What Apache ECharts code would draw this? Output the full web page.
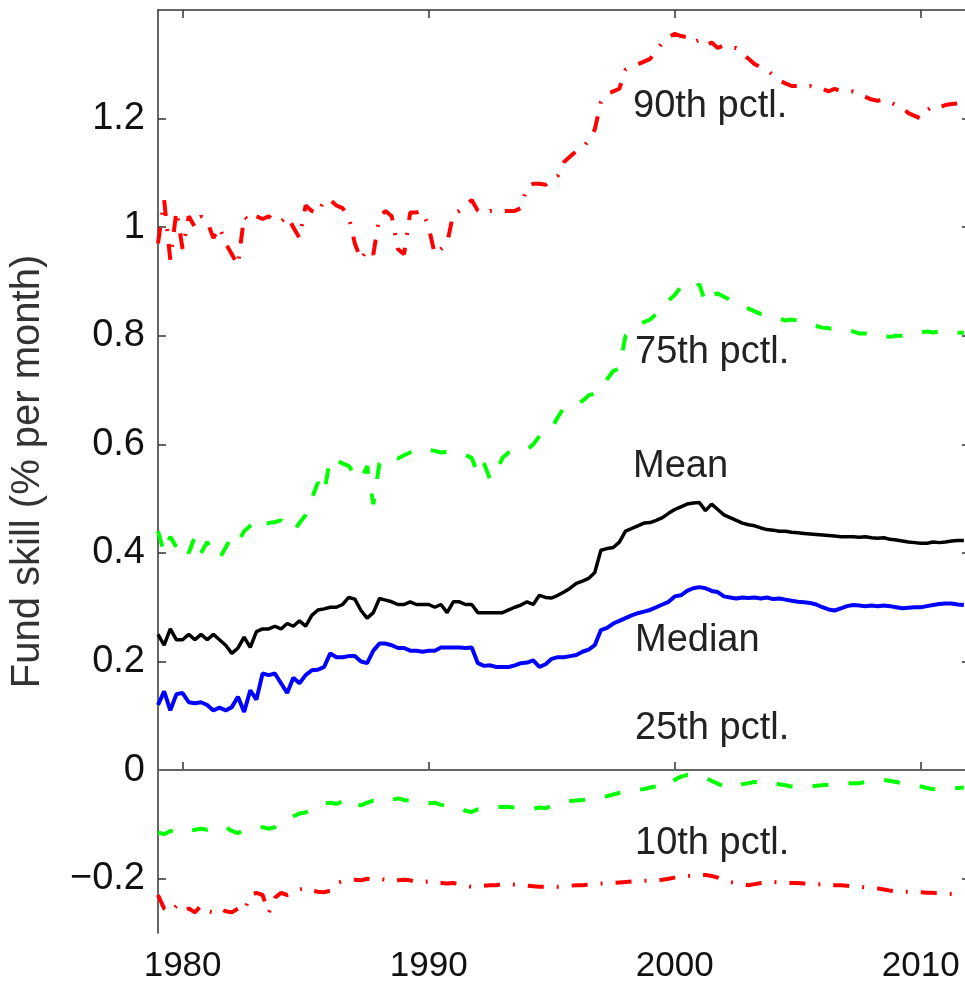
<!DOCTYPE html>
<html>
<head>
<meta charset="utf-8">
<script src="https://cdn.jsdelivr.net/npm/echarts@6/dist/echarts.min.js"></script>
<style>
html,body{margin:0;padding:0;background:#fff;}
#chart{width:965px;height:992px;}
</style>
</head>
<body>
<div id="chart"></div>
<script>
// x sampling: quarters from 1979.00 to 2011.75
const startYear = 1979, stepsPerYear = 4, nYears = 33;
const years = [];
for (let i = 0; i < nYears * stepsPerYear; i++) years.push(startYear + i / stepsPerYear);

const xTicks = [1980, 1990, 2000, 2010];
const yTicks = [-0.2, 0, 0.2, 0.4, 0.6, 0.8, 1, 1.2];

const p90 = [
  0.97,1.05,0.94,1.03, 0.96,1.02,1.00,1.02, 1.01,0.98,1.00,0.97, 0.95,0.93,1.02,1.01,
  1.02,1.015,1.02,1.01, 1.01,1.02,1.00,0.98, 1.04,1.03,1.025,1.05, 1.05,1.04,1.035,1.02,
  0.97,0.94,0.96,0.95, 1.02,1.03,1.02,0.96, 0.95,1.027,1.027,1.03, 1.00,0.95,0.96,0.97,
  1.025,1.03,1.04,1.05, 1.03,1.025,1.03,1.03, 1.03,1.03,1.03,1.035, 1.075,1.08,1.08,1.078,
  1.09,1.095,1.12,1.13, 1.14,1.146,1.16,1.18, 1.23,1.245,1.25,1.255, 1.29,1.295,1.30,1.305,
  1.31,1.325,1.34,1.35, 1.356,1.352,1.35,1.34, 1.345,1.335,1.34,1.33, 1.335,1.33,1.33,1.32,
  1.31,1.30,1.295,1.29, 1.28,1.27,1.265,1.26, 1.26,1.258,1.26,1.255, 1.255,1.25,1.255,1.25,
  1.25,1.25,1.245,1.24, 1.235,1.233,1.235,1.23, 1.225,1.22,1.21,1.205, 1.20,1.215,1.223,1.22,
  1.225,1.227,1.228,1.23
];
const p75 = [
  0.44,0.40,0.43,0.41, 0.42,0.40,0.43,0.40, 0.42,0.40,0.39,0.41, 0.43,0.42,0.44,0.45,
  0.46,0.45,0.455,0.457, 0.46,0.45,0.44,0.455, 0.47,0.50,0.53,0.51, 0.575,0.57,0.565,0.56,
  0.545,0.535,0.56,0.49, 0.565,0.575,0.578,0.574, 0.58,0.585,0.59,0.588, 0.59,0.588,0.585,0.586,
  0.585,0.584,0.58,0.575, 0.545,0.565,0.535,0.55, 0.575,0.585,0.588,0.59, 0.59,0.60,0.615,0.62,
  0.63,0.65,0.668,0.67, 0.675,0.68,0.69,0.694, 0.70,0.72,0.735,0.74, 0.80,0.81,0.82,0.825,
  0.83,0.84,0.85,0.865, 0.875,0.89,0.89,0.885, 0.895,0.86,0.875,0.878, 0.872,0.866,0.86,0.855,
  0.85,0.845,0.84,0.838, 0.835,0.832,0.828,0.83, 0.828,0.825,0.82,0.818, 0.815,0.814,0.812,0.81,
  0.81,0.808,0.804,0.804, 0.802,0.80,0.80,0.798, 0.80,0.80,0.803,0.805, 0.806,0.808,0.806,0.808,
  0.81,0.808,0.806,0.805
];
const meanSkill = [
  0.25,0.23,0.26,0.24, 0.24,0.25,0.24,0.25, 0.24,0.25,0.24,0.23, 0.215,0.225,0.245,0.226,
  0.255,0.26,0.26,0.265, 0.26,0.27,0.265,0.275, 0.265,0.285,0.295,0.297, 0.30,0.30,0.305,0.318,
  0.315,0.294,0.28,0.29, 0.316,0.313,0.31,0.305, 0.305,0.31,0.305,0.305, 0.305,0.30,0.305,0.29,
  0.31,0.31,0.305,0.305, 0.29,0.29,0.29,0.29, 0.29,0.295,0.30,0.304, 0.31,0.305,0.322,0.318,
  0.317,0.322,0.328,0.335, 0.344,0.348,0.353,0.364, 0.405,0.408,0.41,0.42, 0.44,0.445,0.45,0.455,
  0.456,0.46,0.465,0.473, 0.48,0.485,0.49,0.492, 0.493,0.478,0.49,0.48, 0.47,0.465,0.46,0.455,
  0.452,0.45,0.446,0.443, 0.442,0.44,0.44,0.438, 0.437,0.436,0.435,0.434, 0.433,0.432,0.431,0.43,
  0.43,0.43,0.429,0.43, 0.428,0.427,0.428,0.425, 0.424,0.422,0.42,0.419, 0.418,0.418,0.42,0.419,
  0.42,0.422,0.423,0.423
];
const medianSkill = [
  0.12,0.145,0.11,0.14, 0.142,0.125,0.123,0.125, 0.12,0.11,0.115,0.11, 0.116,0.135,0.107,0.147,
  0.13,0.178,0.175,0.178, 0.16,0.142,0.17,0.16, 0.175,0.184,0.185,0.19, 0.215,0.208,0.208,0.21,
  0.21,0.20,0.197,0.22, 0.233,0.233,0.23,0.225, 0.225,0.22,0.22,0.218, 0.22,0.22,0.226,0.226,
  0.226,0.226,0.225,0.226, 0.197,0.192,0.193,0.19, 0.19,0.19,0.193,0.197, 0.198,0.202,0.19,0.195,
  0.205,0.208,0.208,0.21, 0.212,0.218,0.222,0.23, 0.258,0.262,0.27,0.275, 0.28,0.285,0.289,0.292,
  0.295,0.30,0.305,0.31, 0.32,0.322,0.33,0.335, 0.337,0.335,0.33,0.328, 0.32,0.318,0.316,0.318,
  0.317,0.318,0.316,0.318, 0.315,0.316,0.314,0.312, 0.31,0.309,0.308,0.305, 0.30,0.296,0.294,0.298,
  0.302,0.304,0.303,0.302, 0.303,0.302,0.303,0.302, 0.30,0.298,0.299,0.30, 0.30,0.302,0.304,0.306,
  0.307,0.307,0.305,0.304
];
const p25 = [
  -0.115,-0.118,-0.112,-0.115, -0.11,-0.112,-0.11,-0.108, -0.11,-0.108,-0.11,-0.105, -0.112,-0.116,-0.11,-0.107,
  -0.107,-0.105,-0.108,-0.105, -0.095,-0.09,-0.085,-0.08, -0.078,-0.072,-0.065,-0.061, -0.06,-0.062,-0.058,-0.068,
  -0.062,-0.065,-0.06,-0.056, -0.058,-0.055,-0.055,-0.052, -0.055,-0.056,-0.058,-0.06, -0.061,-0.06,-0.064,-0.066,
  -0.068,-0.07,-0.075,-0.077, -0.072,-0.07,-0.069,-0.068, -0.068,-0.068,-0.069,-0.07, -0.07,-0.071,-0.069,-0.07,
  -0.066,-0.062,-0.06,-0.057, -0.056,-0.055,-0.054,-0.052, -0.05,-0.048,-0.045,-0.042, -0.04,-0.038,-0.036,-0.035,
  -0.032,-0.03,-0.033,-0.025, -0.018,-0.012,-0.009,-0.01, -0.012,-0.014,-0.02,-0.025, -0.03,-0.033,-0.03,-0.026,
  -0.024,-0.022,-0.022,-0.023, -0.024,-0.026,-0.028,-0.03, -0.031,-0.03,-0.03,-0.029, -0.028,-0.027,-0.026,-0.025,
  -0.025,-0.024,-0.024,-0.022, -0.02,-0.019,-0.018,-0.02, -0.022,-0.024,-0.026,-0.028, -0.03,-0.033,-0.035,-0.036,
  -0.035,-0.034,-0.033,-0.032
];
const p10 = [
  -0.23,-0.255,-0.262,-0.25, -0.26,-0.255,-0.262,-0.25, -0.26,-0.262,-0.255,-0.26, -0.262,-0.255,-0.26,-0.23,
  -0.226,-0.23,-0.263,-0.235, -0.226,-0.23,-0.226,-0.22, -0.217,-0.222,-0.224,-0.225, -0.222,-0.208,-0.205,-0.202,
  -0.202,-0.203,-0.2,-0.202, -0.2,-0.202,-0.205,-0.203, -0.202,-0.203,-0.206,-0.206, -0.205,-0.208,-0.208,-0.209,
  -0.208,-0.21,-0.213,-0.215, -0.214,-0.213,-0.212,-0.212, -0.21,-0.21,-0.211,-0.212, -0.213,-0.214,-0.215,-0.215,
  -0.214,-0.215,-0.214,-0.213, -0.212,-0.212,-0.211,-0.21, -0.209,-0.208,-0.208,-0.207, -0.206,-0.205,-0.205,-0.204,
  -0.203,-0.203,-0.202,-0.2, -0.198,-0.196,-0.195,-0.194, -0.193,-0.193,-0.195,-0.198, -0.202,-0.206,-0.208,-0.21,
  -0.212,-0.21,-0.208,-0.206, -0.206,-0.207,-0.208,-0.208, -0.208,-0.209,-0.21,-0.211, -0.21,-0.211,-0.212,-0.212,
  -0.213,-0.214,-0.215,-0.216, -0.217,-0.218,-0.22,-0.222, -0.222,-0.224,-0.224,-0.225, -0.225,-0.226,-0.226,-0.227,
  -0.227,-0.228,-0.228,-0.228
];

const seriesNames = ['90th pctl.', '75th pctl.', 'Mean', 'Median', '25th pctl.', '10th pctl.'];

function pairs(vals) { return vals.map((v, i) => [years[i], v]); }

const FONT = '"Liberation Sans", Arial, Helvetica, sans-serif';
const axisLineStyle = { color: '#333', width: 1.5 };

const chart = echarts.init(document.getElementById('chart'), null, { renderer: 'canvas' });

const dashed = [16, 20];
const dashDot = [16, 13, 2, 13];

function fmtY(v) {
  if (Math.abs(v) < 1e-9) return '0';
  if (Math.abs(v - 1) < 1e-9) return '1';
  return (v < 0 ? '\u2212' : '') + Math.abs(v).toFixed(1);
}

const option = {
  backgroundColor: '#fff',
  animation: false,
  grid: { left: 158, top: 10, width: 812, height: 923, containLabel: false, outerBoundsMode: 'none' },
  xAxis: [{
    type: 'value', min: 1979, max: 2012, position: 'bottom',
    axisLine: { show: true, lineStyle: axisLineStyle },
    axisTick: { show: true, inside: true, length: 8, customValues: xTicks, lineStyle: axisLineStyle },
    axisLabel: { customValues: xTicks, formatter: v => String(v), fontSize: 35, color: '#111', fontFamily: FONT, margin: 16 },
    splitLine: { show: false }
  }, {
    type: 'value', min: 1979, max: 2012, position: 'top',
    axisLine: { show: true, onZero: false, lineStyle: axisLineStyle },
    axisTick: { show: true, inside: true, length: 8, customValues: xTicks, lineStyle: axisLineStyle },
    axisLabel: { show: false },
    splitLine: { show: false }
  }],
  yAxis: [{
    type: 'value', min: -0.3, max: 1.4, position: 'left',
    name: 'Fund skill (% per month)', nameLocation: 'middle', nameRotate: 90, nameGap: 110,
    nameTextStyle: { fontSize: 40, color: '#333', fontFamily: FONT },
    axisLine: { show: true, onZero: false, lineStyle: axisLineStyle },
    axisTick: { show: true, inside: true, length: 8, customValues: yTicks, lineStyle: axisLineStyle },
    axisLabel: { customValues: yTicks, formatter: fmtY, fontSize: 38, color: '#111', fontFamily: FONT, margin: 13 },
    splitLine: { show: false }
  }, {
    type: 'value', min: -0.3, max: 1.4, position: 'right',
    axisLine: { show: true, onZero: false, lineStyle: axisLineStyle },
    axisTick: { show: true, inside: true, length: 8, customValues: yTicks, lineStyle: axisLineStyle },
    axisLabel: { show: false },
    splitLine: { show: false }
  }],
  series: [
    { name: seriesNames[0], type: 'line', data: pairs(p90), showSymbol: false,
      lineStyle: { color: '#ff0000', width: 4, type: dashDot } },
    { name: seriesNames[1], type: 'line', data: pairs(p75), showSymbol: false,
      lineStyle: { color: '#00ff00', width: 4, type: dashed } },
    { name: seriesNames[2], type: 'line', data: pairs(meanSkill), showSymbol: false,
      lineStyle: { color: '#000000', width: 3.5 },
      markLine: { silent: true, symbol: ['none', 'none'], label: { show: false },
        lineStyle: { color: '#666', width: 2, type: 'solid' }, data: [{ yAxis: 0 }] } },
    { name: seriesNames[3], type: 'line', data: pairs(medianSkill), showSymbol: false,
      lineStyle: { color: '#0000ff', width: 4 } },
    { name: seriesNames[4], type: 'line', data: pairs(p25), showSymbol: false,
      lineStyle: { color: '#00ff00', width: 4, type: dashed } },
    { name: seriesNames[5], type: 'line', data: pairs(p10), showSymbol: false,
      lineStyle: { color: '#ff0000', width: 4, type: dashDot } }
  ],
  graphic: [
    { type: 'text', left: 633, top: 88, style: { text: seriesNames[0], font: '38px ' + FONT, fill: '#222' } },
    { type: 'text', left: 635, top: 334, style: { text: seriesNames[1], font: '38px ' + FONT, fill: '#222' } },
    { type: 'text', left: 633, top: 448, style: { text: seriesNames[2], font: '38px ' + FONT, fill: '#222' } },
    { type: 'text', left: 635, top: 622, style: { text: seriesNames[3], font: '38px ' + FONT, fill: '#222' } },
    { type: 'text', left: 635, top: 710, style: { text: seriesNames[4], font: '38px ' + FONT, fill: '#222' } },
    { type: 'text', left: 635, top: 825, style: { text: seriesNames[5], font: '38px ' + FONT, fill: '#222' } }
  ]
};
chart.setOption(option);
</script>
</body>
</html>
